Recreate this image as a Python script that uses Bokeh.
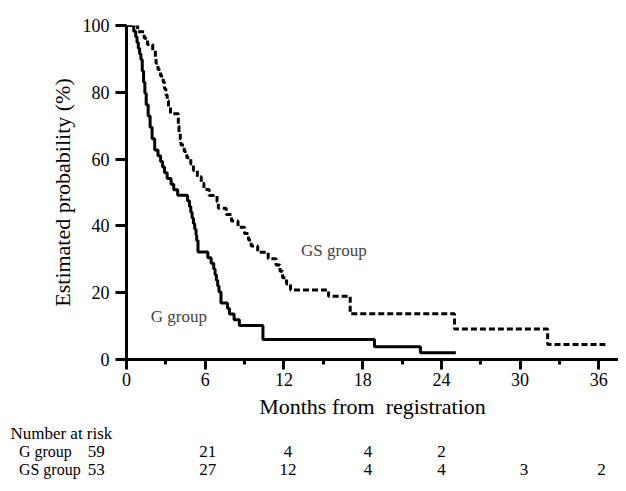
from bokeh.plotting import figure
from bokeh.models import FixedTicker, Label, ColumnDataSource
from bokeh.layouts import column
from bokeh.core.properties import value
from bokeh.embed import file_html
from bokeh.resources import INLINE

# Kaplan-Meier step data (months, estimated probability %)
g_t = [0, 0.55, 0.7, 0.8, 0.9, 1.0, 1.1, 1.2, 1.3, 1.4, 1.5, 1.65, 1.8, 1.95, 2.15, 2.4, 2.6, 2.75, 2.9, 3.1,
       3.4, 3.6, 3.9, 4.65, 4.8, 4.9, 5.0, 5.1, 5.2, 5.3, 5.35, 5.45, 6.2, 6.45, 6.65, 6.75, 6.85, 6.95, 7.05, 7.2,
       7.7, 7.85, 8.2, 8.6, 10.4, 18.9, 22.4, 25.1]
g_s = [100, 98.3, 96.6, 94.9, 93.2, 91.5, 89.8, 86.4, 83.0, 79.7, 76.3, 72.9, 69.5, 66.1, 62.7, 61.0, 59.3, 57.6, 55.9, 54.2,
       52.5, 50.8, 49.2, 47.5, 45.8, 44.1, 42.4, 40.7, 39.0, 37.3, 35.6, 32.2, 30.5, 28.8, 27.1, 25.4, 23.7, 22.0, 20.3, 16.9,
       15.3, 13.6, 11.9, 10.2, 6.0, 3.8, 2.0, 2.0]

gs_t = [0, 0.85, 1.35, 1.6, 2.0, 2.2, 2.25, 2.4, 2.6, 2.8, 2.9, 3.0, 3.1, 3.2, 3.35, 3.95, 4.0, 4.1, 4.15, 4.4,
        4.6, 4.9, 5.1, 5.4, 5.7, 5.9, 6.3, 6.9, 7.0, 7.6, 8.0, 8.5, 9.0, 9.3, 9.5, 10.0, 10.8, 11.4, 11.7, 11.9,
        12.2, 12.5, 15.4, 17.05, 25.0, 32.1, 36.5]
gs_s = [100, 98.1, 96.2, 94.3, 92.5, 90.6, 88.7, 86.8, 84.9, 83.0, 81.1, 79.2, 77.4, 75.5, 73.6, 69.8, 67.9, 66.0, 64.2, 62.3,
        60.4, 58.5, 56.6, 54.7, 52.8, 50.9, 49.1, 47.2, 45.3, 43.4, 41.5, 39.6, 37.7, 35.8, 34.0, 32.1, 30.2, 28.3, 26.4, 24.5,
        22.6, 20.8, 18.9, 13.7, 9.1, 4.5, 4.5]

x_ticks = [0, 6, 12, 18, 24, 30, 36]
x_minor = [3, 9, 15, 21, 27, 33]
y_ticks = [0, 20, 40, 60, 80, 100]

risk_times = [0, 6, 12, 18, 24, 30, 36]
g_risk = [59, 21, 4, 4, 2]
gs_risk = [53, 27, 12, 4, 4, 3, 2]
table_title = "Number at risk"
group_names = ["G group", "GS group"]

FONT = "Liberation Serif"
LEFT = 126
FRAME_W = 492
X_END = 37.5

p = figure(width=LEFT + FRAME_W, height=425, x_range=(0, X_END), y_range=(0, 100),
           output_backend="svg", toolbar_location=None,
           min_border_left=LEFT, min_border_right=0, min_border_top=25, min_border_bottom=66)
p.frame_align = False

p.step(g_t, g_s, mode="after", line_color="black", line_width=3)
p.step(gs_t, gs_s, mode="after", line_color="black", line_width=3, line_dash="6 3")

p.xgrid.visible = False
p.ygrid.visible = False
p.outline_line_color = None

p.xaxis.ticker = FixedTicker(ticks=x_ticks, minor_ticks=x_minor)
p.yaxis.ticker = FixedTicker(ticks=y_ticks)
for ax in (p.xaxis[0], p.yaxis[0]):
    ax.axis_line_width = 3
    ax.axis_line_color = "black"
    ax.major_tick_line_width = 3
    ax.minor_tick_line_width = 3
    ax.major_tick_in = 0
    ax.minor_tick_in = 0
    ax.major_label_text_font = FONT
    ax.major_label_text_font_size = "18px"
    ax.major_label_text_color = "black"
    ax.axis_label_text_font = FONT
    ax.axis_label_text_font_size = "22px"
    ax.axis_label_text_font_style = "normal"
    ax.axis_label_text_color = "black"
p.xaxis.major_tick_out = 10
p.xaxis.minor_tick_out = 5
p.xaxis.major_label_standoff = 3
p.yaxis.major_tick_out = 11
p.yaxis.minor_tick_out = 0
p.yaxis.major_label_standoff = 6
p.xaxis.axis_label = "Months from\u00a0 registration"
p.yaxis.axis_label = "Estimated probability (%)"

# curve labels
p.add_layout(Label(x=13.3, y=32.6, text="GS group", text_font=FONT, text_font_size="17px",
                   text_baseline="middle", text_align="left"))
p.add_layout(Label(x=1.85, y=12.9, text="G group", text_font=FONT, text_font_size="17px",
                   text_baseline="middle", text_align="left"))

# number-at-risk table, drawn on a second figure sharing the month scale
px_per_month = FRAME_W / X_END
t = figure(width=LEFT + FRAME_W, height=60, x_range=(-LEFT / px_per_month, X_END), y_range=(0, 60),
           output_backend="svg", toolbar_location=None,
           min_border_left=0, min_border_right=0, min_border_top=0, min_border_bottom=0)
t.frame_align = False
t.axis.visible = False
t.xgrid.visible = False
t.ygrid.visible = False
t.outline_line_color = None

col_x = [-2.3, 6.2, 12.3, 18.4, 24.0, 30.3, 36.2]
row_y = [52, 34, 16]

t.text(x=[-8.85], y=[row_y[0]], text=[table_title], text_font=value(FONT), text_font_size="17px",
       text_baseline="middle", text_align="left", text_color="black")
t.text(x=[-8.2, -8.2], y=row_y[1:], text=group_names, text_font=value(FONT), text_font_size="16px",
       text_baseline="middle", text_align="left", text_color="black")
src_g = ColumnDataSource(dict(x=col_x[:len(g_risk)], y=[row_y[1]] * len(g_risk), txt=[str(n) for n in g_risk]))
src_gs = ColumnDataSource(dict(x=col_x[:len(gs_risk)], y=[row_y[2]] * len(gs_risk), txt=[str(n) for n in gs_risk]))
for src in (src_g, src_gs):
    t.text(x="x", y="y", text="txt", source=src, text_font=value(FONT), text_font_size="17px",
           text_baseline="middle", text_align="center", text_color="black")

layout = column(p, t, spacing=0)
open("out.html", "w").write(file_html(layout, INLINE))
